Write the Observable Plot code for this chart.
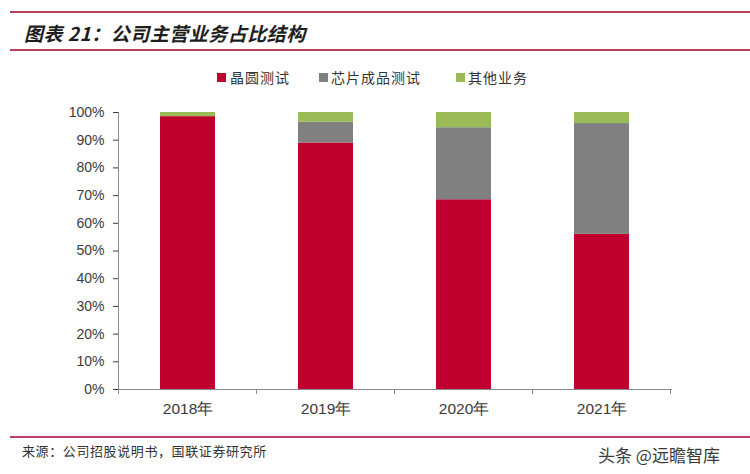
<!DOCTYPE html>
<html>
<head>
<meta charset="utf-8">
<script src="https://cdn.jsdelivr.net/npm/d3@7"></script>
<script src="https://cdn.jsdelivr.net/npm/@observablehq/plot@0.6"></script>
<style>
  html, body { margin: 0; padding: 0; background: #fff; }
  #page { position: relative; width: 750px; height: 474px; overflow: hidden; background: #fff; font-family: "Noto Sans CJK SC", "Liberation Sans", sans-serif; }
  .hline { position: absolute; left: 10px; right: 0; height: 2px; background: #b9425f; }
  #title { position: absolute; left: 24px; top: 22px; font-size: 19px; line-height: 22px; font-weight: bold; font-style: italic; color: #1e1e1e; letter-spacing: 0.5px; }
  #legend { position: absolute; top: 68px; left: 0; width: 750px; height: 18px; font-size: 14px; color: #333; }
  .li { position: absolute; top: 0; line-height: 18px; white-space: nowrap; letter-spacing: 1px; }
  .sw { position: absolute; width: 9px; height: 9px; top: 5px; }
  #chart { position: absolute; left: 0; top: 95px; }
  #chart svg g[aria-label="x-axis tick label"] text { font-size: 15.5px; }
  #chart svg g[aria-label="y-axis tick label"] text { font-size: 14px; }
  #source { position: absolute; left: 22px; top: 443px; font-size: 13px; line-height: 16px; color: #333; letter-spacing: 0.6px; }
  #wm { position: absolute; left: 598px; top: 444px; font-size: 17px; line-height: 22px; color: #3a3a3a; }
</style>
</head>
<body>
<div id="page">
  <div class="hline" style="top:11px"></div>
  <div id="title">图表 21：公司主营业务占比结构</div>
  <div class="hline" style="top:49px"></div>
  <div id="legend"></div>
  <div id="chart"></div>
  <div class="hline" style="top:436px"></div>
  <div id="source">来源：公司招股说明书，国联证券研究所</div>
  <div id="wm">头条 @远瞻智库</div>
</div>
<script>
// ---- data ----
const years = ["2018年", "2019年", "2020年", "2021年"];
const seriesNames = ["晶圆测试", "芯片成品测试", "其他业务"];
const wafer = [98.5, 89, 68.5, 56];     // 晶圆测试 (%)
const chip  = [0, 7.5, 26, 40];         // 芯片成品测试 (%)
const other = [1.5, 3.5, 5.5, 4];       // 其他业务 (%)
const yTicks = [0, 10, 20, 30, 40, 50, 60, 70, 80, 90, 100];
const seriesColors = ["#c0002f", "#808080", "#9bbb59"];

const seriesValues = [wafer, chip, other];
const table = [];
seriesNames.forEach((s, si) => {
  years.forEach((y, yi) => table.push({year: y, series: s, value: seriesValues[si][yi]}));
});

// legend
const legend = document.getElementById("legend");
const legendPos = [[217, 230], [319, 331], [456, 468]];
seriesNames.forEach((s, i) => {
  const sw = document.createElement("div");
  sw.className = "sw";
  sw.style.left = legendPos[i][0] + "px";
  sw.style.background = seriesColors[i];
  legend.appendChild(sw);
  const t = document.createElement("div");
  t.className = "li";
  t.style.left = legendPos[i][1] + "px";
  t.textContent = s;
  legend.appendChild(t);
});

// Excel-style axis: left value line + category boundary ticks
function excelAxes(index, scales) {
  const x = scales.x, y = scales.y;
  const step = typeof x.step === "function" ? x.step() : (x(years[1]) - x(years[0]));
  const bw = typeof x.bandwidth === "function" ? x.bandwidth() : 0;
  const y0 = y(0), y1 = y(100);
  const xs = years.map(d => x(d) - (step - bw) / 2);
  xs.push(x(years[years.length - 1]) + bw + (step - bw) / 2);
  const g = d3.create("svg:g");
  g.append("line").attr("x1", xs[0]).attr("x2", xs[0]).attr("y1", y0).attr("y2", y1)
    .attr("stroke", "#8a8a8a").attr("stroke-width", 1);
  for (const xx of xs) {
    g.append("line").attr("x1", xx).attr("x2", xx).attr("y1", y0).attr("y2", y0 + 5)
      .attr("stroke", "#8a8a8a").attr("stroke-width", 1);
  }
  return g.node();
}

const plot = Plot.plot({
  width: 750,
  height: 330,
  marginLeft: 118,
  marginRight: 78,
  marginTop: 17,
  marginBottom: 36,
  style: {fontFamily: "'Liberation Sans', Arial, sans-serif", fontSize: "13.5px", color: "#3a3a3a", background: "transparent"},
  x: {domain: years, paddingInner: 0.6, paddingOuter: 0.3, label: null, tickSize: 0, tickPadding: 13},
  y: {domain: [0, 100], ticks: yTicks, tickFormat: d => d + "%", label: null, tickSize: 5, tickPadding: 9},
  color: {domain: seriesNames, range: seriesColors},
  marks: [
    Plot.barY(table, {x: "year", y: "value", fill: "series", order: seriesNames}),
    Plot.ruleY([0], {stroke: "#8a8a8a"}),
    excelAxes
  ]
});
document.getElementById("chart").appendChild(plot);
</script>
</body>
</html>
